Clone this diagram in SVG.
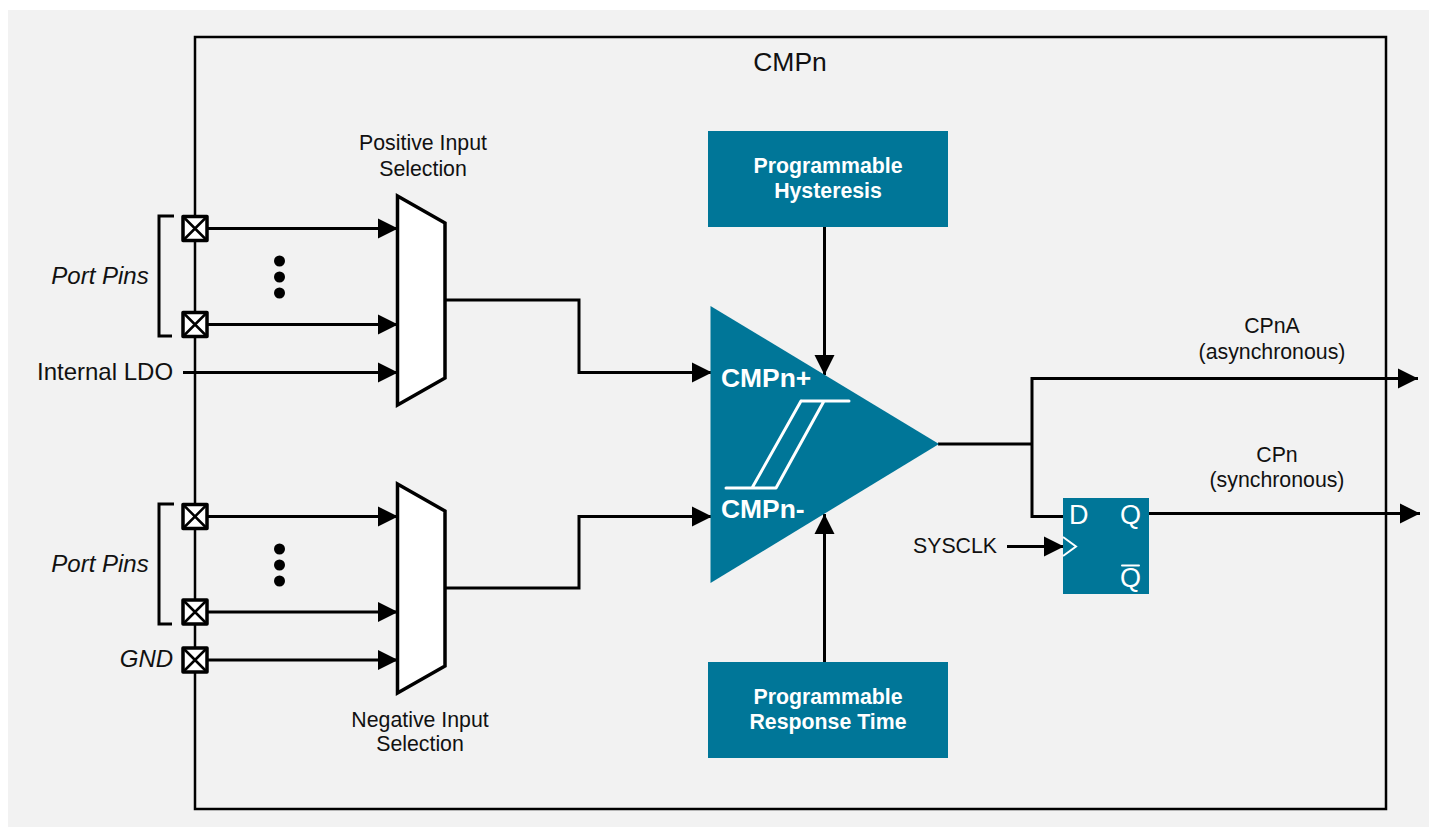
<svg xmlns="http://www.w3.org/2000/svg" width="1429" height="829" viewBox="0 0 1429 829">
<style>
text{font-family:"Liberation Sans",Arial,sans-serif;fill:#111;font-size:21.3px}
.m{text-anchor:middle}
.i{font-style:italic;font-size:24px}
.l{font-size:24px}
.b{font-weight:bold;fill:#fff;text-anchor:middle}
.c{font-weight:bold;fill:#fff;font-size:26.4px}
.w{fill:#fff;font-size:27px}
.line{fill:none;stroke:#000;stroke-width:3}
.frame{fill:none;stroke:#000;stroke-width:2.500}
.mux{fill:#fff;stroke:#000;stroke-width:3.500;stroke-linejoin:miter}
.pin{fill:#fff;stroke:#000;stroke-width:3.500;stroke-linejoin:round}
.x{stroke:#000;stroke-width:2.500}
.teal{fill:#007698}
.wl{fill:none;stroke:#fff;stroke-width:3;stroke-linecap:round;stroke-linejoin:round}
.ah{fill:#000}
</style>
<defs>
<g id="arr"><polygon class="ah" points="-20,-10 0,0 -20,10"/></g>
<g id="pinbox"><rect class="pin" x="-12" y="-12" width="24" height="24"/><path class="x" d="M-11,-11L11,11M11,-11L-11,11"/></g>
</defs>
<rect x="0" y="0" width="1429" height="829" fill="#fff"/>
<rect x="8" y="10" width="1421" height="817" fill="#f2f2f2"/>
<g id="frame"><rect class="frame" x="195" y="37" width="1191" height="772"/><text class="m" x="790" y="71" style="font-size:26.500px">CMPn</text></g>
<g id="connectors">
<path class="line" d="M208,228.500H398M208,324.500H398M183,372.500H398M208,516.500H398M208,612H398M208,660H398"/>
<path class="line" d="M446,300H579V372.500H711M446,588H579V516.500H711"/>
<path class="line" d="M824.500,227V375M824.500,662V514"/>
<path class="line" d="M938,444H1031M1032,517V378.500H1418M1030.500,516.500H1064M1149,513.500H1420M1007,546.500H1064"/>
<use href="#arr" x="398" y="228.500"/><use href="#arr" x="398" y="324.500"/><use href="#arr" x="398" y="372.500"/>
<use href="#arr" x="398" y="516.500"/><use href="#arr" x="398" y="612"/><use href="#arr" x="398" y="660"/>
<use href="#arr" x="712" y="372.500"/><use href="#arr" x="712" y="516.500"/>
<use href="#arr" transform="translate(824.500,375) rotate(90)"/><use href="#arr" transform="translate(824.500,514) rotate(-90)"/>
<use href="#arr" x="1418" y="378.500"/><use href="#arr" x="1420" y="513.500"/><use href="#arr" x="1064" y="546.500"/>
</g>
<g id="port-pins-top">
<use href="#pinbox" x="195" y="228.500"/><use href="#pinbox" x="195" y="324.500"/>
<path class="line" d="M174,216H159V336H172"/>
<text class="i" x="100" y="284" text-anchor="middle">Port Pins</text>
<circle cx="279.500" cy="261" r="5.500"/><circle cx="279.500" cy="277" r="5.500"/><circle cx="279.500" cy="293" r="5.500"/>
</g>
<g id="internal-ldo"><text class="l" x="37" y="380">Internal LDO</text></g>
<g id="port-pins-bottom">
<use href="#pinbox" x="195" y="516.500"/><use href="#pinbox" x="195" y="612"/>
<path class="line" d="M174,504H159V624H172"/>
<text class="i" x="100" y="572" text-anchor="middle">Port Pins</text>
<circle cx="279.500" cy="549" r="5.500"/><circle cx="279.500" cy="565" r="5.500"/><circle cx="279.500" cy="581" r="5.500"/>
</g>
<g id="gnd"><use href="#pinbox" x="195" y="660"/><text class="i" x="146.500" y="667" text-anchor="middle">GND</text></g>
<g id="mux-positive"><polygon class="mux" points="397.500,196 445,223 445,378 397.500,405"/><text class="m" x="423" y="150">Positive Input</text><text class="m" x="423" y="176">Selection</text></g>
<g id="mux-negative"><polygon class="mux" points="397.500,484 445,511 445,666 397.500,693"/><text class="m" x="420" y="727">Negative Input</text><text class="m" x="420" y="751">Selection</text></g>
<g id="hysteresis"><rect class="teal" x="708" y="131" width="240" height="96"/><text class="b" x="828" y="173">Programmable</text><text class="b" x="828" y="198">Hysteresis</text></g>
<g id="response-time"><rect class="teal" x="708" y="662" width="240" height="96"/><text class="b" x="828" y="704">Programmable</text><text class="b" x="828" y="729">Response Time</text></g>
<g id="comparator">
<polygon class="teal" points="710.500,306 939,444 710.500,583"/>
<text class="c" x="721" y="387">CMPn+</text><text class="c" x="721" y="518">CMPn-</text>
<path class="wl" d="M726,488H776L824,401H849M801,401H824M801,401L752,488"/>
</g>
<g id="flipflop">
<rect class="teal" x="1063" y="498" width="86" height="96"/>
<text class="w" x="1069" y="524">D</text><text class="w" x="1120" y="524">Q</text><text class="w" x="1120" y="587">Q</text>
<path class="wl" style="stroke-width:2" d="M1122,565.500H1139"/>
<path d="M1063,537L1076,546.500L1063,556" fill="none" stroke="#fff" stroke-width="2"/>
</g>
<g id="sysclk"><text x="913" y="553">SYSCLK</text></g>
<g id="output-cpna"><text class="m" x="1272" y="333">CPnA</text><text class="m" x="1272" y="359">(asynchronous)</text></g>
<g id="output-cpn"><text class="m" x="1277" y="462">CPn</text><text class="m" x="1277" y="487">(synchronous)</text></g>
</svg>
